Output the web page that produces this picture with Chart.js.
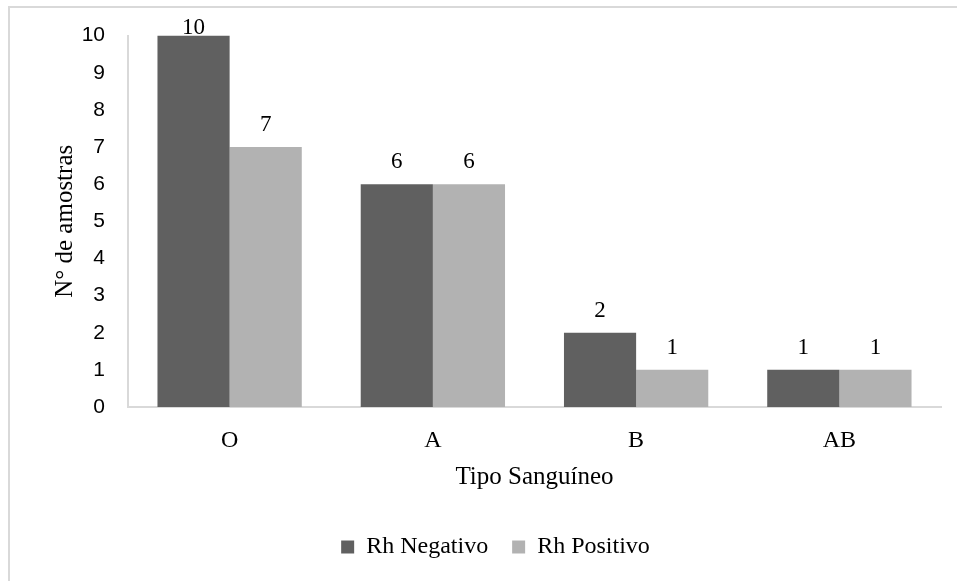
<!DOCTYPE html>
<html>
<head>
<meta charset="utf-8">
<script src="https://cdn.jsdelivr.net/npm/chart.js@4.4.1/dist/chart.umd.min.js"></script>
<style>
  html, body { margin: 0; padding: 0; background: #fff; }
  #wrap { position: relative; width: 957px; height: 581px; }
  #frame {
    position: absolute; left: 8px; top: 6px; right: -4px; bottom: -4px;
    border-left: 2px solid #d9d9d9; border-top: 2px solid #d9d9d9;
    pointer-events: none;
  }
</style>
</head>
<body>
<div id="wrap">
  <canvas id="chart" width="957" height="581"></canvas>
  <div id="frame"></div>
</div>
<script>
/* ================= DATA ================= */
const categories = ["O", "A", "B", "AB"];
const rhNegativo = [10, 6, 2, 1];
const rhPositivo = [7, 6, 1, 1];
const seriesNames = ["Rh Negativo", "Rh Positivo"];
const yTicks = [0, 1, 2, 3, 4, 5, 6, 7, 8, 9, 10];

const serif = "'Liberation Serif', 'Times New Roman', serif";
const sans = "'Liberation Sans', Arial, sans-serif";

Chart.defaults.font.family = serif;
Chart.defaults.color = "#000";

/* ================= VALUE LABELS ================= */
const valueLabels = {
  id: "valueLabels",
  afterDatasetsDraw(chart) {
    const ctx = chart.ctx;
    ctx.save();
    ctx.font = "23px " + serif;
    ctx.fillStyle = "#000";
    ctx.textAlign = "center";
    ctx.textBaseline = "alphabetic";
    chart.data.datasets.forEach((ds, i) => {
      chart.getDatasetMeta(i).data.forEach((bar, j) => {
        const y = Math.max(bar.y - 16, chart.chartArea.top - 2);
        ctx.fillText(String(ds.data[j]), bar.x, y);
      });
    });
    ctx.restore();
  },
};

/* ================= CHART ================= */
new Chart(document.getElementById("chart"), {
  type: "bar",
  data: {
    labels: categories,
    datasets: [
      {
        label: seriesNames[0],
        data: rhNegativo,
        backgroundColor: "#606060",
        borderWidth: 0,
      },
      {
        label: seriesNames[1],
        data: rhPositivo,
        backgroundColor: "#b2b2b2",
        borderWidth: 0,
      },
    ],
  },
  options: {
    responsive: false,
    animation: false,
    datasets: {
      bar: { barPercentage: 1, categoryPercentage: 0.71 },
    },
    layout: {
      padding: { left: 50, right: 16, top: 29, bottom: 12 },
    },
    plugins: {
      tooltip: { enabled: false },
      legend: {
        position: "bottom",
        labels: {
          color: "#000",
          font: { family: serif, size: 24 },
          boxWidth: 13,
          boxHeight: 13,
          padding: 24,
        },
      },
    },
    scales: {
      x: {
        grid: { display: false, drawTicks: false },
        border: { color: "#d9d9d9", width: 2 },
        afterFit: (s) => { s.height = 104; },
        ticks: {
          color: "#000",
          font: { family: serif, size: 24 },
          padding: 19,
        },
        title: {
          display: true,
          text: "Tipo Sanguíneo",
          color: "#000",
          font: { family: serif, size: 25 },
          padding: { top: 0, bottom: 19 },
        },
      },
      y: {
        min: 0,
        max: 10,
        afterBuildTicks: (axis) => {
          axis.ticks = yTicks.map((v) => ({ value: v }));
        },
        afterFit: (s) => { s.width = 78; },
        grid: { display: false, drawTicks: false },
        border: { color: "#d9d9d9", width: 2 },
        ticks: {
          color: "#000",
          font: { family: sans, size: 21 },
          padding: 23,
        },
        title: {
          display: true,
          text: "N° de amostras",
          color: "#000",
          font: { family: serif, size: 25 },
          padding: { top: 0, bottom: 0 },
        },
      },
    },
  },
  plugins: [valueLabels],
});
</script>
</body>
</html>
